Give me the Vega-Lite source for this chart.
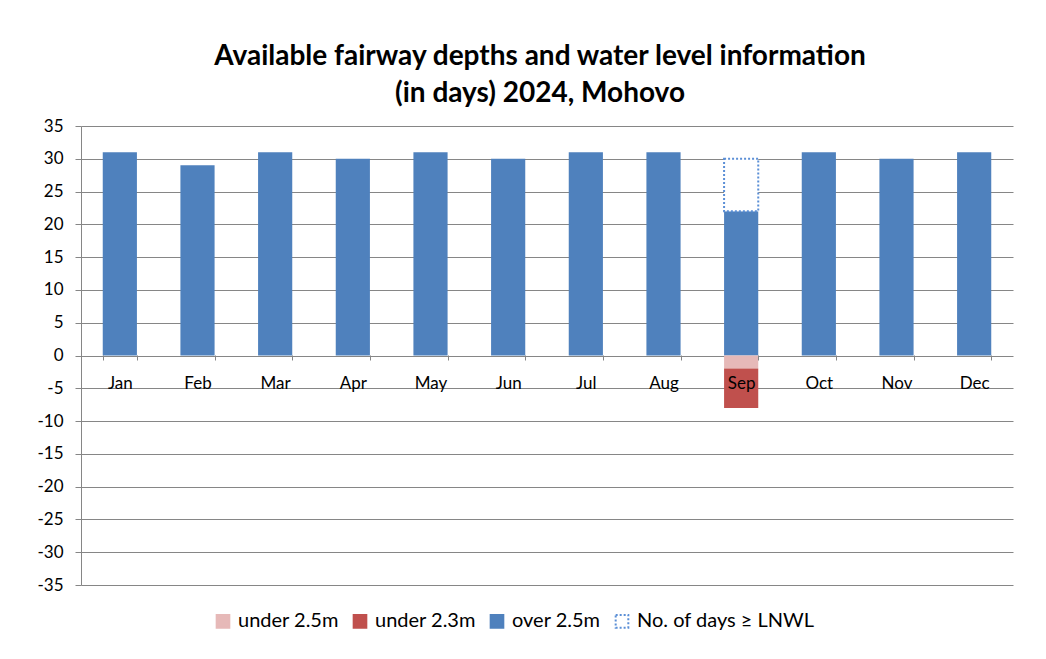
{
  "$schema": "https://vega.github.io/schema/vega-lite/v6.json",
  "width": 932,
  "height": 459,
  "autosize": {"type": "none"},
  "padding": {"left": 81, "top": 126, "right": 33, "bottom": 74},
  "background": "white",
  "title": {
    "text": ["Available fairway depths and water level information", "(in days) 2024, Mohovo"],
    "font": "Lato",
    "fontSize": 28,
    "fontWeight": "bold",
    "color": "#000000",
    "anchor": "middle",
    "lineHeight": 37,
    "offset": 9,
    "dx": -7
  },
  "data": {
    "values": [
      {"month": "Jan", "series": "over 2.5m", "days": 31, "k": 1},
      {"month": "Feb", "series": "over 2.5m", "days": 29, "k": 1},
      {"month": "Mar", "series": "over 2.5m", "days": 31, "k": 1},
      {"month": "Apr", "series": "over 2.5m", "days": 30, "k": 1},
      {"month": "May", "series": "over 2.5m", "days": 31, "k": 1},
      {"month": "Jun", "series": "over 2.5m", "days": 30, "k": 1},
      {"month": "Jul", "series": "over 2.5m", "days": 31, "k": 1},
      {"month": "Aug", "series": "over 2.5m", "days": 31, "k": 1},
      {"month": "Sep", "series": "over 2.5m", "days": 22, "k": 1},
      {"month": "Sep", "series": "No. of days ≥ LNWL", "days": 8, "k": 2},
      {"month": "Sep", "series": "under 2.5m", "days": -2, "k": 1},
      {"month": "Sep", "series": "under 2.3m", "days": -6, "k": 2},
      {"month": "Oct", "series": "over 2.5m", "days": 31, "k": 1},
      {"month": "Nov", "series": "over 2.5m", "days": 30, "k": 1},
      {"month": "Dec", "series": "over 2.5m", "days": 31, "k": 1}
    ]
  },
  "mark": {"type": "bar"},
  "encoding": {
    "x": {
      "field": "month",
      "type": "nominal",
      "sort": ["Jan", "Feb", "Mar", "Apr", "May", "Jun", "Jul", "Aug", "Sep", "Oct", "Nov", "Dec"],
      "scale": {"paddingInner": 0.56, "paddingOuter": 0.28},
      "axis": {
        "title": null,
        "labelAngle": 0,
        "offset": -230,
        "zindex": 1,
        "domain": false,
        "tickBand": "extent",
        "tickColor": "#868686",
        "tickSize": 5,
        "labelPadding": 15,
        "labelFont": "Lato",
        "labelFontSize": 17,
        "labelColor": "#000000",
        "grid": false
      }
    },
    "y": {
      "field": "days",
      "type": "quantitative",
      "stack": "zero",
      "scale": {"domain": [-35, 35], "nice": false, "zero": false},
      "axis": {
        "title": null,
        "values": [-35, -30, -25, -20, -15, -10, -5, 0, 5, 10, 15, 20, 25, 30, 35],
        "labelExpr": "toString(datum.value)",
        "grid": true,
        "gridColor": "#868686",
        "gridWidth": 1,
        "domainColor": "#868686",
        "tickColor": "#868686",
        "tickSize": 6,
        "labelPadding": 12,
        "labelFont": "Lato",
        "labelFontSize": 17,
        "labelColor": "#000000"
      }
    },
    "order": {"field": "k", "type": "quantitative"},
    "fill": {
      "field": "series",
      "type": "nominal",
      "scale": {
        "domain": ["under 2.5m", "under 2.3m", "over 2.5m", "No. of days ≥ LNWL"],
        "range": ["#e6b9b8", "#c0504d", "#4f81bd", "#ffffff"]
      },
      "legend": {"title": null}
    },
    "stroke": {
      "field": "series",
      "type": "nominal",
      "scale": {
        "domain": ["under 2.5m", "under 2.3m", "over 2.5m", "No. of days ≥ LNWL"],
        "range": ["#e6b9b8", "#c0504d", "#4f81bd", "#5b8fd6"]
      },
      "legend": {"title": null}
    },
    "strokeDash": {
      "field": "series",
      "type": "nominal",
      "scale": {
        "domain": ["under 2.5m", "under 2.3m", "over 2.5m", "No. of days ≥ LNWL"],
        "range": [[1, 0], [1, 0], [1, 0], [2, 2]]
      },
      "legend": {"title": null}
    },
    "strokeWidth": {
      "condition": {"test": "datum.series === 'No. of days ≥ LNWL'", "value": 2},
      "value": 0
    }
  },
  "config": {
    "view": {"stroke": null},
    "legend": {
      "orient": "none",
      "legendX": 132,
      "legendY": 485,
      "direction": "horizontal",
      "symbolType": "square",
      "symbolSize": 160,
      "symbolStrokeWidth": 2,
      "labelFont": "Lato",
      "labelFontSize": 20,
      "labelColor": "#000000",
      "labelOffset": 5,
      "columnPadding": 10,
      "labelLimit": 300
    }
  }
}
